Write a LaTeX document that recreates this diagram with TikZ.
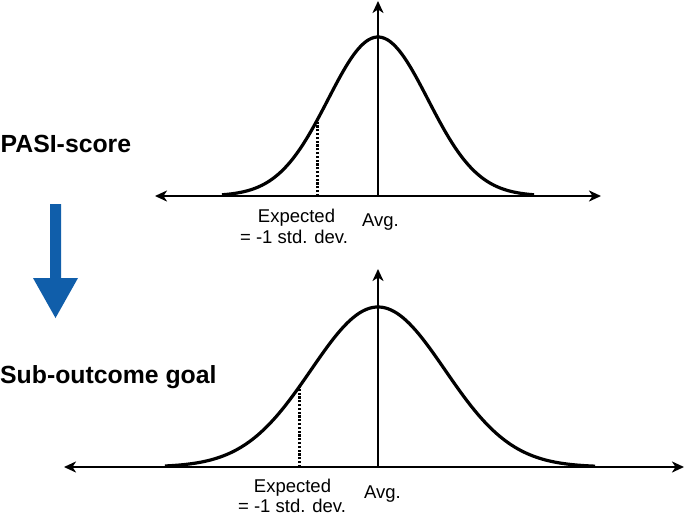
\documentclass[tikz,border=0pt]{standalone}
\usepackage{fontspec}
\setmainfont{Liberation Sans}
\usetikzlibrary{arrows.meta}
\definecolor{arrowblue}{RGB}{16,94,170}
\begin{document}
\begin{tikzpicture}[x=1pt,y=-1pt,
  axis/.style={line width=2.6pt,{Stealth[length=12pt,width=11pt,inset=3.5pt]}-{Stealth[length=12pt,width=11pt,inset=3.5pt]}},
  vaxis/.style={line width=2.6pt,-{Stealth[length=12pt,width=11pt,inset=3.5pt]}},
  curve/.style={line width=3.2pt},
  dotline/.style={line width=3pt,dash pattern=on 2.2pt off 1.6pt},
  lbl/.style={font=\fontsize{18.5}{21}\selectfont,inner sep=0pt,anchor=base},
  heading/.style={font=\bfseries\fontsize{24.8}{27}\selectfont,inner sep=0pt,anchor=base west}]
\useasboundingbox (0,0) rectangle (685,515);

% ---------- top chart ----------
\coordinate (tL) at (155,196);
\coordinate (tR) at (601,196);
\coordinate (tO) at (378,196);
\coordinate (tT) at (378,1);
\coordinate (tD0) at (317,196);
\coordinate (tD1) at (317,121.5);
\draw[curve] plot[domain=222:534,samples=120] (\x,{196-159*exp(-(((\x-378)/50)^2)/2)});
\draw[axis] (tL) -- (tR);
\draw[vaxis] (tO) -- (tT);
\draw[dotline] (tD0) -- (tD1);
\node[lbl] (texp1) at (296.5,222) {Expected};
\node[lbl] (texp2) at (294,243) {= -1 std. dev.};
\node[lbl] (tavg) at (380.5,226) {Avg.};

% ---------- bottom chart ----------
\coordinate (bL) at (64,467);
\coordinate (bR) at (684,467);
\coordinate (bO) at (378,467);
\coordinate (bT) at (378,269);
\coordinate (bD0) at (299,467);
\coordinate (bD1) at (299,387);
\draw[curve] plot[domain=165:595,samples=140] (\x,{467-160*exp(-(((\x-378)/67)^2)/2)});
\draw[axis] (bL) -- (bR);
\draw[vaxis] (bO) -- (bT);
\draw[dotline] (bD0) -- (bD1);
\node[lbl] (bexp1) at (292.5,492) {Expected};
\node[lbl] (bexp2) at (292,512) {= -1 std. dev.};
\node[lbl] (bavg) at (382.5,498) {Avg.};

% ---------- headings and blue arrow ----------
\node[heading] (pasi) at (0.5,152) {PASI-score};
\node[heading] (sub) at (0,383) {Sub-outcome goal};
\fill[arrowblue] (50,204) -- (61,204) -- (61,278) -- (78,278) -- (55.5,318) -- (33,278) -- (50,278) -- cycle;
\end{tikzpicture}
\end{document}
